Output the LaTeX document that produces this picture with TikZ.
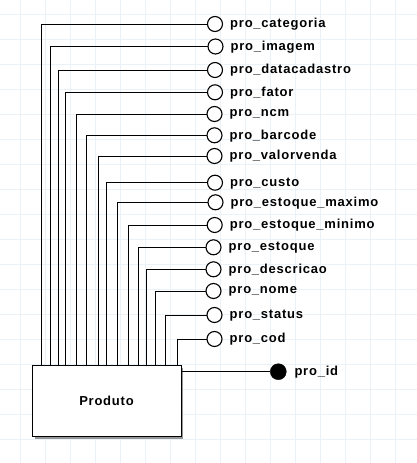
\documentclass[tikz,border=0pt]{standalone}
\usepackage{fontspec}
\newfontfamily\lblfont{Liberation Sans}[LetterSpace=6]
\definecolor{gridc}{RGB}{234,241,247}
\definecolor{shadowc}{RGB}{150,150,150}
\begin{document}
\begin{tikzpicture}[x=1pt,y=-1pt,
  attr/.style={circle, draw=black, line width=1.1pt, fill=white, minimum size=15pt, inner sep=0pt, outer sep=0pt},
  keyattr/.style={circle, draw=black, fill=black, minimum size=16pt, inner sep=0pt, outer sep=0pt},
  lbl/.style={anchor=west, inner sep=0pt, font=\lblfont\bfseries\fontsize{13}{15}\selectfont},
  conn/.style={draw=black, line width=0.9pt},
  entity/.style={draw=black, line width=1pt, fill=white, minimum width=149pt, minimum height=71pt, inner sep=0pt, outer sep=0pt, font=\lblfont\bfseries\fontsize{13}{15}\selectfont}
]
\useasboundingbox (0,0) rectangle (417,463);
\fill[white] (0,0) rectangle (417,463);
% grid
\foreach \gx in {20.5,45.5,...,420} {\draw[gridc, line width=0.8pt] (\gx,0) -- (\gx,463);}
\foreach \gy in {14,39,...,463} {\draw[gridc, line width=0.8pt] (0,\gy) -- (417,\gy);}
% entity
\fill[shadowc] (34.5,367.5) rectangle (183.2,438.5);
\node[entity] (box) at (106.5,400.5) {Produto};
% attributes
\foreach \i/\cx/\cy/\vx/\txt in {
  1/215/24/41.3/pro\_categoria,
  2/215.5/46.5/50.3/pro\_imagem,
  3/215/70/58.7/pro\_datacadastro,
  4/215/92.3/65.3/pro\_fator,
  5/214.5/114/76.7/pro\_ncm,
  6/214.5/135.3/86.7/pro\_barcode,
  7/214.5/156/98.3/pro\_valorvenda,
  8/215/182.7/106.3/pro\_custo,
  9/215.5/202.3/117.3/pro\_estoque\_maximo,
  10/214.7/225/128.7/pro\_estoque\_minimo,
  11/213.5/247.3/138.3/pro\_estoque,
  12/213.5/269.3/146.7/pro\_descricao,
  13/213.5/291/155.3/pro\_nome,
  14/214.5/315/165.7/pro\_status,
  15/214.5/339/177.3/pro\_cod} {
  \node[attr] (c\i) at (\cx,\cy) {};
  \node[lbl] (l\i) at ([xshift=7.5pt,yshift=-0.5pt]c\i.east) {\txt};
  \coordinate (t\i) at (\vx,365);
  \draw[conn] (c\i.west) -| (t\i);
}
% key attribute
\node[keyattr] (cid) at (278.3,371.7) {};
\node[lbl] (lid) at ([xshift=8pt,yshift=-0.5pt]cid.east) {pro\_id};
\draw[conn] (box.east |- cid) -- (cid.west);
\end{tikzpicture}
\end{document}
